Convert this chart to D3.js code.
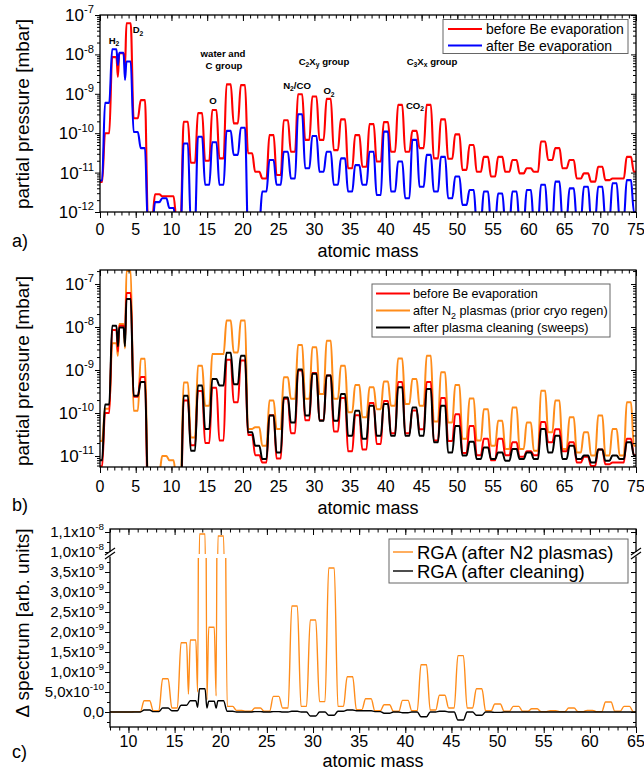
<!DOCTYPE html>
<html>
<head>
<meta charset="utf-8">
<script src="https://cdn.jsdelivr.net/npm/d3@7/dist/d3.min.js"></script>
<style>
  body { margin: 0; background: #fff; }
  svg { display: block; font-family: "Liberation Sans", Arial, Helvetica, sans-serif; }
</style>
</head>
<body>
<svg id="chart" width="644" height="773"></svg>
<script>
// ---------- data ----------
const masses = d3.range(0, 76);        // panels a and b
const deltaMasses = d3.range(8, 66);   // panel c

// log10(partial pressure / mbar), one value per integer mass 0..75
const beforeBe = [-11.24, -10.0, -8.07, -7.97, -7.21, -9.62, -9.16, -12.2, -11.55, -11.6,
  -11.6, -12.2, -9.71, -10.75, -9.49, -10.7, -9.41, -10.64, -8.76, -9.75,
  -8.78, -10.51, -10.98, -11.15, -10.05, -11.06, -9.67, -10.47, -9.01, -10.17,
  -9.07, -10.17, -9.13, -10.43, -9.65, -10.89, -10.05, -10.85, -9.77, -10.72,
  -9.72, -10.47, -9.28, -10.47, -9.94, -10.38, -9.28, -10.64, -9.65, -10.65,
  -10.03, -10.93, -10.3, -10.98, -10.6, -11.1, -10.6, -10.98, -10.68, -11.02,
  -10.89, -10.98, -10.21, -10.68, -10.38, -10.89, -10.68, -11.15, -11.02, -11.23,
  -10.85, -11.19, -11.15, -11.15, -10.6, -10.98];
const afterBe = [-11.2, -9.23, -7.87, -7.96, -8.18, -9.97, -10.38, -12.4, -11.75, -11.65,
  -11.9, -12.4, -10.26, -12.3, -10.09, -11.31, -10.23, -11.31, -9.94, -10.55,
  -9.86, -12.5, -12.3, -11.48, -10.68, -11.31, -10.47, -11.15, -9.52, -10.89,
  -10.07, -10.98, -10.47, -11.31, -10.64, -11.48, -10.81, -11.31, -10.47, -11.57,
  -9.96, -11.48, -10.72, -11.65, -10.17, -11.36, -10.55, -11.48, -10.6, -11.65,
  -11.1, -11.82, -11.44, -12.3, -11.48, -12.3, -11.53, -12.3, -11.48, -12.3,
  -11.44, -12.3, -11.31, -12.3, -11.23, -12.2, -11.4, -12.2, -11.36, -12.2,
  -11.36, -12.2, -11.27, -12.2, -11.19, -12.0];
const afterN2 = [-10.65, -9.9, -8.38, -7.93, -6.7, -9.95, -8.74, -11.6, -11.4, -11.0,
  -11.1, -11.6, -9.29, -10.57, -8.9, -9.83, -8.63, -8.63, -7.85, -8.59,
  -7.85, -10.37, -10.33, -10.76, -9.71, -10.37, -9.17, -9.67, -8.42, -9.67,
  -8.47, -9.56, -8.32, -9.67, -8.9, -9.98, -9.35, -10.1, -9.4, -9.91,
  -9.27, -9.83, -8.73, -9.79, -9.21, -9.83, -8.67, -10.2, -9.05, -10.22,
  -9.35, -10.6, -9.66, -10.64, -9.91, -10.76, -10.18, -10.84, -9.87, -10.84,
  -10.22, -10.88, -9.48, -10.45, -9.71, -10.84, -10.1, -10.92, -10.45, -10.99,
  -10.06, -10.99, -10.37, -10.99, -9.75, -10.76];
const afterClean = [-11.1, -9.8, -7.97, -8.01, -7.35, -9.6, -9.28, -11.7, -11.8, -11.6,
  -11.9, -12.0, -9.6, -10.88, -9.36, -10.37, -9.21, -9.36, -8.6, -9.33,
  -8.67, -10.45, -10.76, -11.07, -10.06, -10.92, -9.64, -10.22, -8.99, -10.06,
  -9.09, -10.18, -9.13, -10.18, -9.56, -10.53, -9.95, -10.6, -9.83, -10.53,
  -9.79, -10.53, -9.4, -10.53, -9.87, -10.53, -9.44, -10.68, -9.83, -10.92,
  -10.3, -10.99, -10.67, -11.07, -10.8, -11.07, -10.92, -11.11, -10.84, -11.07,
  -10.92, -11.07, -10.37, -10.92, -10.53, -11.07, -10.76, -11.07, -10.99, -11.15,
  -10.85, -11.11, -10.99, -11.07, -10.68, -10.99];

// dips between the H2 / D2 peaks: [mass, log10 p]
const beforeBeDips = [[2.5, -8.57], [3.5, -8.31]];
const afterBeDips = [[2.5, -8.27], [3.5, -8.65]];
const afterN2Dips = [[2.5, -8.67], [3.5, -8.5]];
const afterCleanDips = [[2.5, -8.45], [3.5, -8.45]];

// panel c, difference spectra in units of 1e-9, masses 8..65
const deltaN2 = [0, 0, 0, 0.01, 0.28, 0.03, 0.83, 0.1, 1.73, 1.8,
  10.9, 2.12, 10.8, 0.14, 0.04, 0.02, 0.1, 0.02, 0.39, 0.1,
  2.65, 0.14, 2.3, 0.26, 3.6, 0.14, 0.88, 0.06, 0.33, 0.03,
  0.18, 0.02, 0.29, 0.03, 1.18, 0.05, 0.42, 0.1, 1.41, 0.1,
  0.58, 0.03, 0.2, 0.02, 0.14, 0.02, 0.08, 0.01, 0.03, 0.01,
  0.1, 0.01, 0.04, 0.01, 0.25, 0.02, 0.14, 0.01];
const deltaClean = [0, 0, 0, 0, 0.05, 0.01, 0.1, 0.03, 0.17, 0.28,
  0.58, 0.27, 0.28, 0.02, 0, 0, 0.01, 0, 0.01, 0,
  0.02, 0, -0.1, 0, -0.08, 0.02, 0.05, 0.03, 0.03, 0.01,
  -0.03, 0, -0.02, 0, -0.12, 0, 0.02, 0, -0.2, 0,
  -0.08, 0, -0.01, 0, 0, 0, 0, 0, 0, 0,
  0, 0, 0, 0, 0, 0, 0, 0];
const deltaN2Dips = [[16.5, 0.45], [17.5, 0.5], [18.5, 0.3], [19.5, 0.4]];
const deltaCleanDips = [[17.5, 0.12], [18.5, 0.1], [19.5, 0.1]];

// tick labels
const massTicksAB = d3.range(0, 76, 5);
const massTicksC = d3.range(10, 66, 5);
const logTicksA = [[1e-12, "-12"], [1e-11, "-11"], [1e-10, "-10"], [1e-9, "-9"], [1e-8, "-8"], [1e-7, "-7"]];
const logTicksB = [[1e-11, "-11"], [1e-10, "-10"], [1e-9, "-9"], [1e-8, "-8"], [1e-7, "-7"]];
const cLowTicks = [[0, "0,0", ""], [0.5, "5,0x10", "-10"], [1.0, "1,0x10", "-9"], [1.5, "1,5x10", "-9"],
  [2.0, "2,0x10", "-9"], [2.5, "2,5x10", "-9"], [3.0, "3,0x10", "-9"], [3.5, "3,5x10", "-9"]];
const cHighTicks = [[10, "1,0x10", "-8"], [11, "1,1x10", "-8"]];

// ---------- helpers ----------
const svg = d3.select("#chart");
const HALF = 0.3;   // half width of the flat peak top, in mass units

function spectrumPoints(ms, vals, dips) {
  const pts = [];
  ms.forEach((m, i) => pts.push([m - HALF, vals[i]], [m + HALF, vals[i]]));
  (dips || []).forEach(d => pts.push(d));
  return pts.sort((p, q) => p[0] - q[0]);
}

function addClip(id, x0, y0, x1, y1) {
  svg.append("clipPath").attr("id", id).append("rect")
    .attr("x", x0).attr("y", y0).attr("width", x1 - x0).attr("height", y1 - y0);
}

function drawSpectrum(pts, x, yFn, color, width, clip) {
  svg.append("path").datum(pts)
    .attr("clip-path", `url(#${clip})`)
    .attr("fill", "none").attr("stroke", color).attr("stroke-width", width)
    .attr("stroke-linejoin", "round")
    .attr("d", d3.line().x(d => x(d[0])).y(d => yFn(d[1])).curve(d3.curveMonotoneX));
}

function ticks(axisFn, scale, vals, size, tx, ty) {
  svg.append("g").attr("transform", `translate(${tx},${ty})`)
    .call(axisFn(scale).tickValues(vals).tickSize(size).tickFormat(""))
    .call(g => g.select(".domain").remove())
    .selectAll("line").attr("stroke", "#000").attr("stroke-width", 1);
}

function frame(x0, y0, x1, y1) {
  svg.append("rect").attr("x", x0).attr("y", y0).attr("width", x1 - x0).attr("height", y1 - y0)
    .attr("fill", "none").attr("stroke", "#000").attr("stroke-width", 1.3);
}

function powLabel(px, py, base, exp, size) {
  const t = svg.append("text").attr("x", px).attr("y", py)
    .attr("text-anchor", "end").attr("font-size", size);
  t.append("tspan").text(base);
  if (exp) t.append("tspan").attr("dy", -size * 0.45).attr("font-size", size * 0.66).text(exp);
}

function logMinors(lo, hi) {
  const out = [];
  for (let k = -13; k <= -6; k++)
    for (let j = 2; j <= 9; j++) {
      const v = j * Math.pow(10, k);
      if (v >= lo && v <= hi) out.push(v);
    }
  return out;
}

function text(px, py, str, size, opts = {}) {
  return svg.append("text").attr("x", px).attr("y", py).attr("font-size", size)
    .attr("text-anchor", opts.anchor || "start")
    .attr("font-weight", opts.weight || "normal")
    .attr("transform", opts.rotate ? `rotate(-90,${px},${py})` : null)
    .text(str);
}

// text made of [string, "sub"|""] parts
function richText(px, py, parts, size, opts = {}) {
  const t = svg.append("text").attr("x", px).attr("y", py).attr("font-size", size)
    .attr("text-anchor", opts.anchor || "start").attr("font-weight", opts.weight || "normal");
  let shifted = false;
  parts.forEach(([s, kind]) => {
    const sp = t.append("tspan").text(s);
    if (kind === "sub" && !shifted) { sp.attr("dy", size * 0.3).attr("font-size", size * 0.7); shifted = true; }
    else if (kind === "sub") { sp.attr("font-size", size * 0.7); }
    else if (shifted) { sp.attr("dy", -size * 0.3); shifted = false; }
  });
  return t;
}

function massAxes(x, top, bottom, majors, minors, labelY, titleY, titleX) {
  ticks(d3.axisBottom, x, majors, 6, 0, bottom);
  ticks(d3.axisBottom, x, minors, 3.5, 0, bottom);
  ticks(d3.axisBottom, x, majors, 6, 0, top);
  ticks(d3.axisBottom, x, minors, 3.5, 0, top);
  majors.forEach(v => text(x(v), labelY, String(v), 16, { anchor: "middle" }));
  text(titleX, titleY, "atomic mass", 18, { anchor: "middle" });
}

// ---------- panel a ----------
const xAB = d3.scaleLinear().domain([0, 75]).range([100, 636]);
const yA = d3.scaleLog().domain([1e-12, 1e-7]).range([212, 15]);
const logA = v => yA(Math.pow(10, v));
addClip("clipA", 100, 15, 636, 212);

drawSpectrum(spectrumPoints(masses, beforeBe, beforeBeDips), xAB, logA, "#ff0000", 2.1, "clipA");
drawSpectrum(spectrumPoints(masses, afterBe, afterBeDips), xAB, logA, "#0000ff", 2.1, "clipA");

frame(100, 15, 636, 212);
massAxes(xAB, 15, 212, massTicksAB, d3.range(0, 76), 235, 257, 368);
const minorsA = logMinors(1e-12, 1e-7);
ticks(d3.axisLeft, yA, logTicksA.map(d => d[0]), 5, 100, 0);
ticks(d3.axisLeft, yA, minorsA, 3, 100, 0);
ticks(d3.axisLeft, yA, logTicksA.map(d => d[0]), 5, 636, 0);
ticks(d3.axisLeft, yA, minorsA, 3, 636, 0);
logTicksA.forEach(([v, e]) => powLabel(94, yA(v) + 6, "10", e, 17));
text(29, 114, "partial pressure [mbar]", 19, { anchor: "middle", rotate: true });
text(12, 247, "a)", 18);

// annotations
const ann = 9.6;
richText(114, 43.5, [["H", ""], ["2", "sub"]], ann, { anchor: "middle", weight: "bold" });
richText(138, 33, [["D", ""], ["2", "sub"]], ann, { anchor: "middle", weight: "bold" });
text(223, 57, "water and", ann, { anchor: "middle", weight: "bold" });
text(224, 69, "C group", ann, { anchor: "middle", weight: "bold" });
text(213, 103.5, "O", ann, { anchor: "middle", weight: "bold" });
richText(324, 64.5, [["C", ""], ["2", "sub"], ["X", ""], ["y", "sub"], [" group", ""]], ann, { anchor: "middle", weight: "bold" });
richText(297, 88.5, [["N", ""], ["2", "sub"], ["/CO", ""]], ann, { anchor: "middle", weight: "bold" });
richText(329, 94, [["O", ""], ["2", "sub"]], ann, { anchor: "middle", weight: "bold" });
richText(432, 64.5, [["C", ""], ["3", "sub"], ["X", ""], ["x", "sub"], [" group", ""]], ann, { anchor: "middle", weight: "bold" });
richText(415, 108.5, [["CO", ""], ["2", "sub"]], ann, { anchor: "middle", weight: "bold" });

// legend a
svg.append("rect").attr("x", 443).attr("y", 19.5).attr("width", 185).attr("height", 34)
  .attr("fill", "#fff").attr("stroke", "#666").attr("stroke-width", 1);
[["before Be evaporation", "#ff0000", 29], ["after Be evaporation", "#0000ff", 45.5]].forEach(([lab, c, yy]) => {
  svg.append("line").attr("x1", 448).attr("x2", 482).attr("y1", yy).attr("y2", yy)
    .attr("stroke", c).attr("stroke-width", 2);
  text(486, yy + 5, lab, 14);
});

// ---------- panel b ----------
const yB = d3.scaleLog().domain([Math.pow(10, -11.256), Math.pow(10, -6.674)]).range([467, 270]);
const logB = v => yB(Math.pow(10, v));
addClip("clipB", 100, 270, 636, 467);

drawSpectrum(spectrumPoints(masses, afterN2, afterN2Dips), xAB, logB, "#ff8c1a", 2, "clipB");
drawSpectrum(spectrumPoints(masses, beforeBe, beforeBeDips), xAB, logB, "#ff0000", 2, "clipB");
drawSpectrum(spectrumPoints(masses, afterClean, afterCleanDips), xAB, logB, "#000000", 2, "clipB");

frame(100, 270, 636, 467);
massAxes(xAB, 270, 467, massTicksAB, d3.range(0, 76), 492, 514, 368);
const minorsB = logMinors(Math.pow(10, -11.256), Math.pow(10, -6.674));
ticks(d3.axisLeft, yB, logTicksB.map(d => d[0]), 5, 100, 0);
ticks(d3.axisLeft, yB, minorsB, 3, 100, 0);
ticks(d3.axisLeft, yB, logTicksB.map(d => d[0]), 5, 636, 0);
ticks(d3.axisLeft, yB, minorsB, 3, 636, 0);
logTicksB.forEach(([v, e]) => powLabel(94, yB(v) + 6, "10", e, 17));
text(29, 371, "partial pressure [mbar]", 19, { anchor: "middle", rotate: true });
text(12, 511, "b)", 18);

// legend b
svg.append("rect").attr("x", 372).attr("y", 284).attr("width", 238).attr("height", 53)
  .attr("fill", "#fff").attr("stroke", "#666").attr("stroke-width", 1);
const legB = [
  [[["before Be evaporation", ""]], "#ff0000", 293.5],
  [[["after N", ""], ["2", "sub"], [" plasmas (prior cryo regen)", ""]], "#ff8c1a", 310.5],
  [[["after plasma cleaning (sweeps)", ""]], "#000000", 327.5]
];
legB.forEach(([parts, c, yy]) => {
  svg.append("line").attr("x1", 376).attr("x2", 410).attr("y1", yy).attr("y2", yy)
    .attr("stroke", c).attr("stroke-width", 2);
  richText(413, yy + 4.5, parts, 12.7);
});

// ---------- panel c ----------
const xC = d3.scaleLinear().domain([8, 65]).range([110, 636]);
const yCLow = d3.scaleLinear().domain([-0.375, 3.85]).range([727, 558]);
const yCHigh = d3.scaleLinear().domain([9.9, 11.15]).range([554, 529]);
addClip("clipCLow", 110, 558, 636, 727);
addClip("clipCHigh", 110, 529, 636, 554);

const ptsN2 = spectrumPoints(deltaMasses, deltaN2, deltaN2Dips);
const ptsClean = spectrumPoints(deltaMasses, deltaClean, deltaCleanDips);
drawSpectrum(ptsN2, xC, yCLow, "#ff8c1a", 1.4, "clipCLow");
drawSpectrum(ptsN2, xC, yCHigh, "#ff8c1a", 1.4, "clipCHigh");
drawSpectrum(ptsClean, xC, yCLow, "#000000", 1.4, "clipCLow");

frame(110, 529, 636, 727);
massAxes(xC, 529, 727, massTicksC, d3.range(8, 66), 747, 767, 373);
const cLowMinors = [-0.25, 0.25, 0.75, 1.25, 1.75, 2.25, 2.75, 3.25, 3.75];
[110, 636].forEach(px => {
  ticks(d3.axisLeft, yCLow, cLowTicks.map(d => d[0]), 5, px, 0);
  ticks(d3.axisLeft, yCLow, cLowMinors, 3, px, 0);
  ticks(d3.axisLeft, yCHigh, cHighTicks.map(d => d[0]), 5, px, 0);
  ticks(d3.axisLeft, yCHigh, [10.5], 3, px, 0);
});
cLowTicks.forEach(([v, b, e]) => powLabel(104, yCLow(v) + 5, b, e, 15));
cHighTicks.forEach(([v, b, e]) => powLabel(104, yCHigh(v) + 5, b, e, 15));

// axis break marks
[110, 636].forEach(px => {
  svg.append("rect").attr("x", px - 2).attr("y", 552).attr("width", 4).attr("height", 4.5).attr("fill", "#fff");
  [0, 4].forEach(off => svg.append("line")
    .attr("x1", px - 5).attr("y1", 555 + off).attr("x2", px + 5).attr("y2", 548 + off)
    .attr("stroke", "#000").attr("stroke-width", 1.2));
});

text(29, 623, "\u0394 spectrum [arb. units]", 19, { anchor: "middle", rotate: true });
text(12, 758, "c)", 18);

// legend c
svg.append("rect").attr("x", 389).attr("y", 539).attr("width", 239).attr("height", 44)
  .attr("fill", "#fff").attr("stroke", "#666").attr("stroke-width", 1);
[["RGA (after N2 plasmas)", "#ff8c1a", 552], ["RGA (after cleaning)", "#000000", 571]].forEach(([lab, c, yy]) => {
  svg.append("line").attr("x1", 393).attr("x2", 413).attr("y1", yy).attr("y2", yy)
    .attr("stroke", c).attr("stroke-width", 1.4);
  text(417, yy + 6.5, lab, 18.5);
});
</script>
</body>
</html>
